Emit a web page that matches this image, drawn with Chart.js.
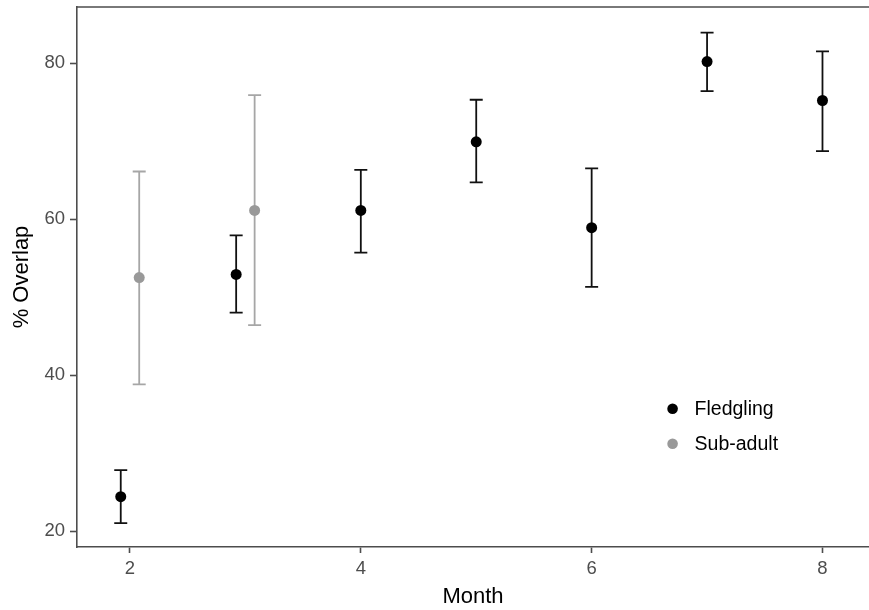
<!DOCTYPE html>
<html>
<head>
<meta charset="utf-8">
<script src="https://cdn.jsdelivr.net/npm/chart.js@4/dist/chart.umd.min.js"></script>
<style>
  html, body { margin: 0; padding: 0; background: #ffffff; }
  canvas { display: block; }
</style>
</head>
<body>
<canvas id="overlapChart" width="869" height="610"></canvas>
<script>
// values
const months = [2, 3, 4, 5, 6, 7, 8];
const fledglingMean = [24.4, 52.9, 61.1, 69.9, 58.9, 80.2, 75.2];
const fledglingLow  = [21.0, 48.0, 55.7, 64.7, 51.3, 76.4, 68.7];
const fledglingHigh = [27.8, 57.9, 66.3, 75.3, 66.5, 83.9, 81.5];

const subadultMonths = [2, 3];
const subadultMean = [52.5, 61.1];
const subadultLow  = [38.8, 46.4];
const subadultHigh = [66.1, 75.9];

const xTicks = [2, 4, 6, 8];
const yTicks = [20, 40, 60, 80];
const seriesNames = ['Fledgling', 'Sub-adult'];
const seriesColors = ['#000000', '#999999'];

// side by side dodge where both groups exist in a month
const DODGE = 0.08;
const fontFamily = "Arial, 'Liberation Sans', Helvetica, sans-serif";

const fledglingPts = months.map((m, i) => ({
    x: subadultMonths.includes(m) ? m - DODGE : m,
    y: fledglingMean[i], lo: fledglingLow[i], hi: fledglingHigh[i]
}));
const subadultPts = subadultMonths.map((m, i) => ({
    x: m + DODGE, y: subadultMean[i], lo: subadultLow[i], hi: subadultHigh[i]
}));

const errorBars = {
    id: 'errorBars',
    beforeDatasetsDraw(chart) {
        const { ctx, scales: { x, y } } = chart;
        ctx.save();
        chart.data.datasets.forEach(ds => {
            ctx.strokeStyle = ds.barColor;
            ctx.lineWidth = 1.8;
            ds.data.forEach(p => {
                const px = x.getPixelForValue(p.x);
                const top = y.getPixelForValue(p.hi);
                const bot = y.getPixelForValue(p.lo);
                ctx.beginPath();
                ctx.moveTo(px, top); ctx.lineTo(px, bot);
                ctx.moveTo(px - 6.5, top); ctx.lineTo(px + 6.5, top);
                ctx.moveTo(px - 6.5, bot); ctx.lineTo(px + 6.5, bot);
                ctx.stroke();
            });
        });
        ctx.restore();
    }
};

const panelExtras = {
    id: 'panelExtras',
    afterDraw(chart) {
        const { ctx, chartArea: a } = chart;
        ctx.save();
        // top border of the panel
        ctx.strokeStyle = '#4d4d4d';
        ctx.lineWidth = 1.6;
        ctx.beginPath();
        ctx.moveTo(a.left, a.top); ctx.lineTo(a.right, a.top);
        ctx.stroke();

        // legend placed inside the panel
        const lx = a.left + (a.right - a.left) * 0.752;
        let ly = a.top + (a.bottom - a.top) * 0.744;
        ctx.font = '19.5px ' + fontFamily;
        ctx.textBaseline = 'middle';
        seriesNames.forEach((name, i) => {
            ctx.fillStyle = seriesColors[i];
            ctx.beginPath();
            ctx.arc(lx, ly, 5.3, 0, Math.PI * 2);
            ctx.fill();
            ctx.fillStyle = '#000000';
            ctx.fillText(name, lx + 22, ly + 1);
            ly += 35;
        });
        ctx.restore();
    }
};

new Chart(document.getElementById('overlapChart').getContext('2d'), {
    type: 'scatter',
    data: {
        datasets: [
            { label: seriesNames[0], data: fledglingPts, backgroundColor: seriesColors[0], borderColor: seriesColors[0], barColor: '#111111', pointRadius: 5.5, pointBorderWidth: 0 },
            { label: seriesNames[1], data: subadultPts, backgroundColor: seriesColors[1], borderColor: seriesColors[1], barColor: '#a6a6a6', pointRadius: 5.5, pointBorderWidth: 0 }
        ]
    },
    options: {
        responsive: false,
        animation: false,
        layout: { autoPadding: false, padding: { top: 7, right: 0, left: 0, bottom: 0 } },
        plugins: { legend: { display: false }, tooltip: { enabled: false } },
        scales: {
            x: {
                type: 'linear', min: 1.541, max: 8.403,
                afterBuildTicks: s => { s.ticks = xTicks.map(v => ({ value: v })); },
                afterFit: s => { s.height = 63; s.paddingLeft = 0; s.paddingRight = 0; },
                grid: { drawOnChartArea: false, drawTicks: true, tickLength: 6, tickColor: '#4d4d4d', tickWidth: 1.6 },
                border: { display: true, color: '#4d4d4d', width: 1.6 },
                ticks: { color: '#4d4d4d', padding: 5, font: { size: 18.5, family: fontFamily } },
                title: { display: true, text: 'Month', color: '#000000', padding: { top: 0, bottom: 0 }, font: { size: 22, family: fontFamily } }
            },
            y: {
                type: 'linear', min: 17.95, max: 87.19,
                afterBuildTicks: s => { s.ticks = yTicks.map(v => ({ value: v })); },
                afterFit: s => { s.width = 77; s.paddingTop = 0; s.paddingBottom = 0; },
                grid: { drawOnChartArea: false, drawTicks: true, tickLength: 7, tickColor: '#4d4d4d', tickWidth: 1.6 },
                border: { display: true, color: '#4d4d4d', width: 1.6 },
                ticks: { color: '#4d4d4d', padding: 5, font: { size: 18.5, family: fontFamily } },
                title: { display: true, text: '% Overlap', color: '#000000', padding: { top: 9, bottom: 0 }, font: { size: 22, family: fontFamily } }
            }
        }
    },
    plugins: [errorBars, panelExtras]
});
</script>
</body>
</html>
